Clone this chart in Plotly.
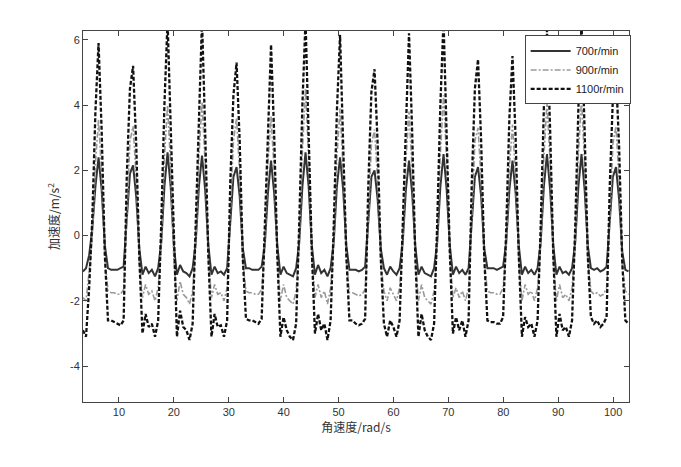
import plotly.graph_objects as go

# Angular speed samples (rad/s)
omega = [
    3.43, 4.00, 4.57, 5.14, 5.71,
    6.28, 6.85, 7.43, 8.00, 8.57, 9.14, 9.71, 10.28, 10.85, 11.42, 12.00,
    12.57, 13.14, 13.71, 14.28, 14.85, 15.42, 15.99, 16.57, 17.14, 17.71, 18.28,
    18.85, 19.42, 19.99, 20.56, 21.13, 21.71, 22.28, 22.85, 23.42, 23.99, 24.56,
    25.13, 25.70, 26.28, 26.85, 27.42, 27.99, 28.56, 29.13, 29.70, 30.27, 30.85,
    31.42, 31.99, 32.56, 33.13, 33.70, 34.27, 34.84, 35.41, 35.99, 36.56, 37.13,
    37.70, 38.27, 38.84, 39.41, 39.98, 40.56, 41.13, 41.70, 42.27, 42.84, 43.41,
    43.98, 44.55, 45.13, 45.70, 46.27, 46.84, 47.41, 47.98, 48.55, 49.12, 49.69,
    50.27, 50.84, 51.41, 51.98, 52.55, 53.12, 53.69, 54.26, 54.84, 55.41, 55.98,
    56.55, 57.12, 57.69, 58.26, 58.83, 59.40, 59.98, 60.55, 61.12, 61.69, 62.26,
    62.83, 63.40, 63.97, 64.55, 65.12, 65.69, 66.26, 66.83, 67.40, 67.97, 68.54,
    69.12, 69.69, 70.26, 70.83, 71.40, 71.97, 72.54, 73.11, 73.68, 74.26, 74.83,
    75.40, 75.97, 76.54, 77.11, 77.68, 78.25, 78.83, 79.40, 79.97, 80.54, 81.11,
    81.68, 82.25, 82.82, 83.40, 83.97, 84.54, 85.11, 85.68, 86.25, 86.82, 87.39,
    87.96, 88.54, 89.11, 89.68, 90.25, 90.82, 91.39, 91.96, 92.53, 93.11, 93.68,
    94.25, 94.82, 95.39, 95.96, 96.53, 97.10, 97.68, 98.25, 98.82, 99.39, 99.96,
    100.53, 101.10, 101.67, 102.24, 102.82,
]

acc_700 = [
    -1.1, -1.0, -0.6, 0.2, 1.5,
    2.4, 1.4, -0.3, -1.0, -1.05, -1.05, -1.05, -1.0, -0.95, 0.5, 1.9,
    2.15, 1.2, -0.4, -1.2, -0.95, -1.15, -1.05, -1.25, -1.0, -0.2, 1.5,
    2.55, 1.5, -0.3, -1.2, -0.9, -1.1, -1.15, -1.25, -1.0, -0.2, 1.5,
    2.45, 1.4, -0.3, -1.2, -0.95, -1.15, -1.1, -1.2, -1.0, 0.4, 1.8,
    2.1, 1.2, -0.4, -1.0, -1.0, -1.05, -1.05, -1.05, -0.95, -0.3, 1.3,
    2.3, 1.3, -0.3, -1.2, -0.95, -1.15, -1.2, -1.25, -1.0, -0.2, 1.5,
    2.55, 1.5, -0.3, -1.2, -0.9, -1.15, -1.05, -1.25, -1.0, -0.2, 1.5,
    2.4, 1.4, -0.3, -1.05, -1.05, -1.05, -1.1, -1.05, -0.95, 0.3, 1.8,
    2.0, 1.1, -0.4, -1.0, -1.2, -0.95, -1.1, -1.2, -1.0, -0.2, 1.4,
    2.3, 1.3, -0.3, -1.2, -0.95, -1.15, -1.2, -1.25, -1.0, -0.2, 1.5,
    2.5, 1.4, -0.3, -1.2, -0.95, -1.15, -1.05, -1.2, -1.0, 0.4, 1.8,
    2.1, 1.2, -0.4, -1.0, -1.0, -1.0, -1.05, -1.0, -0.95, -0.2, 1.4,
    2.3, 1.3, -0.3, -1.2, -0.95, -1.15, -1.05, -1.2, -1.0, -0.2, 1.5,
    2.5, 1.4, -0.3, -1.2, -0.95, -1.15, -1.1, -1.2, -1.0, -0.2, 1.5,
    2.5, 1.4, -0.3, -1.0, -1.05, -1.0, -1.1, -1.05, -0.95, 0.4, 1.8,
    2.1, 1.1, -0.5, -1.05, -1.1,
]

acc_900 = [
    -1.9, -2.0, -1.1, 0.0, 2.2,
    3.55, 1.9, -0.7, -1.7, -1.75, -1.75, -1.8, -1.8, -1.65, 0.5, 2.9,
    3.35, 1.8, -0.8, -1.9, -1.5, -1.8, -1.7, -2.0, -1.6, -0.3, 2.4,
    4.0, 2.1, -0.7, -2.0, -1.4, -1.8, -1.9, -2.1, -1.7, -0.3, 2.4,
    4.1, 2.2, -0.7, -1.9, -1.5, -1.8, -1.75, -2.0, -1.6, 0.4, 2.9,
    3.6, 1.9, -0.8, -1.7, -1.75, -1.75, -1.8, -1.8, -1.65, -0.4, 2.2,
    3.65, 2.0, -0.7, -2.0, -1.5, -1.9, -2.0, -2.1, -1.7, -0.3, 2.6,
    4.5, 2.4, -0.6, -1.9, -1.5, -1.9, -1.7, -2.1, -1.6, -0.3, 2.4,
    3.9, 2.0, -0.7, -1.75, -1.75, -1.8, -1.85, -1.8, -1.65, 0.4, 2.8,
    3.25, 1.7, -0.8, -1.7, -2.0, -1.6, -1.8, -2.0, -1.6, -0.3, 2.3,
    3.8, 2.0, -0.7, -2.0, -1.5, -1.9, -2.0, -2.1, -1.7, -0.3, 2.5,
    4.3, 2.3, -0.6, -1.9, -1.6, -1.9, -1.7, -2.0, -1.6, 0.5, 2.9,
    3.3, 1.7, -0.8, -1.7, -1.75, -1.75, -1.8, -1.8, -1.6, -0.4, 2.1,
    3.4, 1.8, -0.7, -2.0, -1.5, -1.8, -1.7, -2.0, -1.6, -0.3, 2.4,
    4.1, 2.2, -0.7, -2.0, -1.5, -1.9, -1.8, -2.0, -1.6, -0.3, 2.5,
    4.2, 2.2, -0.7, -1.7, -1.8, -1.75, -1.85, -1.8, -1.6, 0.4, 2.8,
    3.35, 1.7, -0.9, -1.7, -1.8,
]

acc_1100 = [
    -2.9, -3.1, -1.6, 0.5, 3.8,
    5.9, 3.2, -0.6, -2.6, -2.6, -2.65, -2.7, -2.75, -2.6, 1.8, 4.5,
    5.2, 2.8, -0.7, -3.0, -2.4, -2.8, -2.7, -3.1, -2.6, 0.4, 4.0,
    6.6, 3.3, -0.5, -3.1, -2.3, -2.8, -2.9, -3.2, -2.7, 0.3, 4.0,
    6.6, 3.2, -0.6, -3.1, -2.4, -2.8, -2.75, -3.1, -2.6, 1.6, 4.3,
    5.3, 2.9, -0.7, -2.55, -2.6, -2.6, -2.65, -2.7, -2.55, 0.2, 3.6,
    5.85, 3.1, -0.6, -3.1, -2.5, -2.9, -3.1, -3.2, -2.7, 0.4, 4.0,
    6.6, 3.3, -0.5, -3.0, -2.4, -2.9, -2.7, -3.2, -2.6, 0.3, 3.8,
    6.15, 3.1, -0.6, -2.6, -2.6, -2.7, -2.75, -2.7, -2.55, 1.5, 4.4,
    5.1, 2.8, -0.7, -2.7, -3.1, -2.6, -2.8, -3.1, -2.6, 0.3, 3.8,
    6.2, 3.2, -0.6, -3.1, -2.4, -2.9, -3.1, -3.2, -2.7, 0.4, 4.0,
    6.6, 3.3, -0.5, -3.0, -2.5, -2.9, -2.6, -3.1, -2.6, 1.6, 4.5,
    5.4, 2.9, -0.7, -2.6, -2.65, -2.65, -2.7, -2.7, -2.5, 0.2, 3.6,
    5.5, 3.0, -0.6, -3.1, -2.5, -2.8, -2.7, -3.1, -2.6, 0.3, 3.9,
    6.3, 3.2, -0.6, -3.1, -2.4, -2.9, -2.8, -3.1, -2.6, 0.3, 3.9,
    6.5, 3.2, -0.6, -2.5, -2.7, -2.6, -2.8, -2.7, -2.5, 1.5, 4.2,
    5.0, 2.7, -0.8, -2.6, -2.7,
]

series_names = ["700r/min", "900r/min", "1100r/min"]
x_ticks = [10, 20, 30, 40, 50, 60, 70, 80, 90, 100]
y_ticks = [-4, -2, 0, 2, 4, 6]
y_tick_text = ["-4", "-2", "0", "2", "4", "6"]

fig = go.Figure()
fig.add_trace(go.Scatter(x=omega, y=acc_700, mode="lines", name=series_names[0],
                         line=dict(color="#333333", width=2, dash="solid")))
fig.add_trace(go.Scatter(x=omega, y=acc_900, mode="lines", name=series_names[1],
                         line=dict(color="#9a9a9a", width=1.6, dash="6px,2px,2px,2px")))
fig.add_trace(go.Scatter(x=omega, y=acc_1100, mode="lines", name=series_names[2],
                         line=dict(color="#111111", width=2.3, dash="4px,2px")))

axis_common = dict(
    showline=True, linecolor="#444444", linewidth=1, mirror="ticks",
    ticks="inside", ticklen=5, tickcolor="#444444", showgrid=False, zeroline=False,
    automargin=False,
    tickfont=dict(family="Liberation Sans, Arial, sans-serif", size=11, color="#333333"),
)

fig.update_xaxes(range=[3.45, 102.9], tickvals=x_ticks,
                 title=dict(text="角速度/rad/s", standoff=2,
                            font=dict(family="Noto Sans CJK SC", size=12, color="#333333")),
                 **axis_common)
fig.update_yaxes(range=[-5.1, 6.27], tickvals=y_ticks, ticktext=y_tick_text,
                 title=dict(text="加速度/m/s<sup>2</sup>", standoff=7,
                            font=dict(family="Noto Sans CJK SC", size=12, color="#333333")),
                 **axis_common)

# The page body adds an 8px offset, so the figure is sized/margined to compensate.
fig.update_layout(
    width=673, height=459,
    margin=dict(l=75, r=52, t=23, b=65),
    paper_bgcolor="white", plot_bgcolor="white",
    showlegend=True,
    legend=dict(x=1.003, y=0.988, xanchor="right", yanchor="top",
                bgcolor="white", bordercolor="#444444", borderwidth=1,
                font=dict(family="Liberation Sans, Arial, sans-serif", size=11, color="#222222"),
                tracegroupgap=0, itemwidth=40),
)

fig.write_html("out.html")
